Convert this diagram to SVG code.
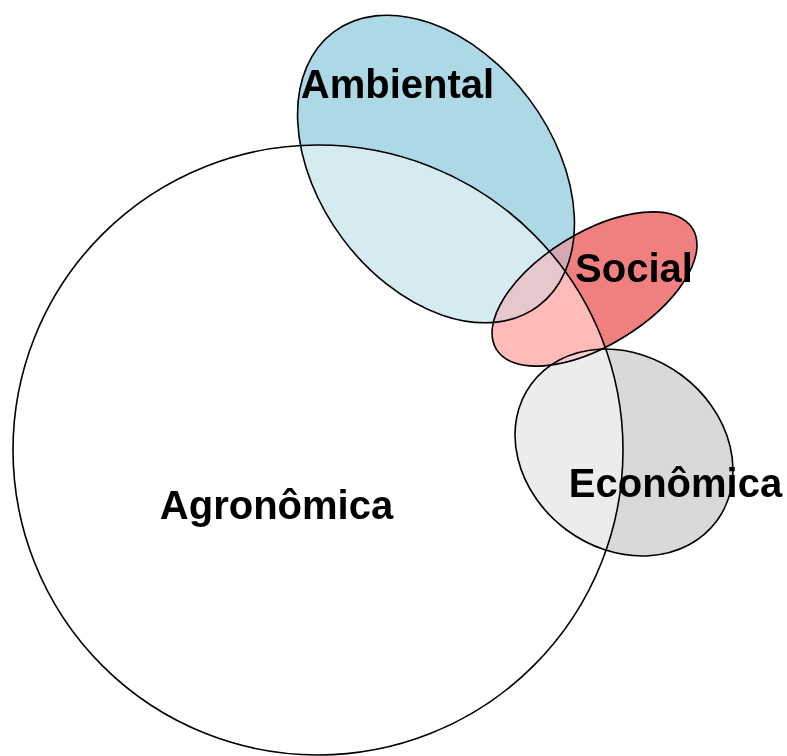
<svg xmlns="http://www.w3.org/2000/svg" width="787" height="756" viewBox="0 0 787 756">
  <style>
    .blend { mix-blend-mode: multiply; }
    .outline { fill: none; stroke: #000000; stroke-width: 1.6; }
    .label { font-family: "Liberation Sans", Arial, Helvetica, sans-serif; font-weight: bold; font-size: 40px; fill: #000000; text-anchor: middle; }
  </style>
  <defs>
    <ellipse id="ambShape" cx="436" cy="169" rx="171" ry="116.5" transform="rotate(53.3 436 169)"/>
    <ellipse id="socShape" cx="594.5" cy="289" rx="115.2" ry="56.3" transform="rotate(-31.6 594.5 289)"/>
    <ellipse id="ecoShape" cx="624" cy="452.5" rx="115.3" ry="96.4" transform="rotate(36.5 624 452.5)"/>
    <clipPath id="inCircle" clipPathUnits="userSpaceOnUse">
      <circle cx="318" cy="450" r="305"/>
    </clipPath>
    <clipPath id="inAmb" clipPathUnits="userSpaceOnUse">
      <ellipse cx="436" cy="169" rx="171" ry="116.5" transform="rotate(53.3 436 169)"/>
    </clipPath>
    <clipPath id="inSoc" clipPathUnits="userSpaceOnUse">
      <ellipse cx="594.5" cy="289" rx="115.2" ry="56.3" transform="rotate(-31.6 594.5 289)"/>
    </clipPath>
    <mask id="noSoc" maskUnits="userSpaceOnUse" x="0" y="0" width="787" height="756">
      <rect x="0" y="0" width="787" height="756" fill="#ffffff"/>
      <use href="#socShape" fill="#000000"/>
    </mask>
    <mask id="noAmbEco" maskUnits="userSpaceOnUse" x="0" y="0" width="787" height="756">
      <rect x="0" y="0" width="787" height="756" fill="#ffffff"/>
      <use href="#ambShape" fill="#000000"/>
      <use href="#ecoShape" fill="#000000"/>
    </mask>
  </defs>
  <rect x="0" y="0" width="787" height="756" fill="#ffffff"/>

  <g id="agronomica">
    <circle cx="318" cy="450" r="305" class="outline" style="fill:#ffffff"/>
    <text class="label" x="276.5" y="519">Agronômica</text>
  </g>

  <g id="ambiental" class="blend">
    <g mask="url(#noSoc)">
      <use href="#ambShape" fill="#add8e6"/>
      <g clip-path="url(#inCircle)">
        <use href="#ambShape" fill="#d5eaf1"/>
      </g>
    </g>
    <use href="#ambShape" class="outline"/>
    <text class="label" x="397.5" y="98">Ambiental</text>
  </g>

  <g id="social" class="blend">
    <g mask="url(#noAmbEco)">
      <use href="#socShape" fill="#f08080"/>
      <g clip-path="url(#inCircle)">
        <use href="#socShape" fill="#ffbaba"/>
      </g>
    </g>
    <g clip-path="url(#inAmb)">
      <use href="#socShape" fill="#d6a8b0"/>
      <g clip-path="url(#inCircle)">
        <use href="#socShape" fill="#e6c7cb"/>
      </g>
    </g>
    <use href="#socShape" class="outline"/>
    <text class="label" x="634" y="282">Social</text>
  </g>

  <g id="economica" class="blend">
    <use href="#ecoShape" fill="#d9d9d9"/>
    <g clip-path="url(#inCircle)">
      <use href="#ecoShape" fill="#ececec"/>
    </g>
    <g clip-path="url(#inSoc)">
      <use href="#ecoShape" fill="#f7cdcd"/>
    </g>
    <use href="#ecoShape" class="outline"/>
    <text class="label" x="675.5" y="497">Econômica</text>
  </g>

  <g id="connectors"/>
</svg>
